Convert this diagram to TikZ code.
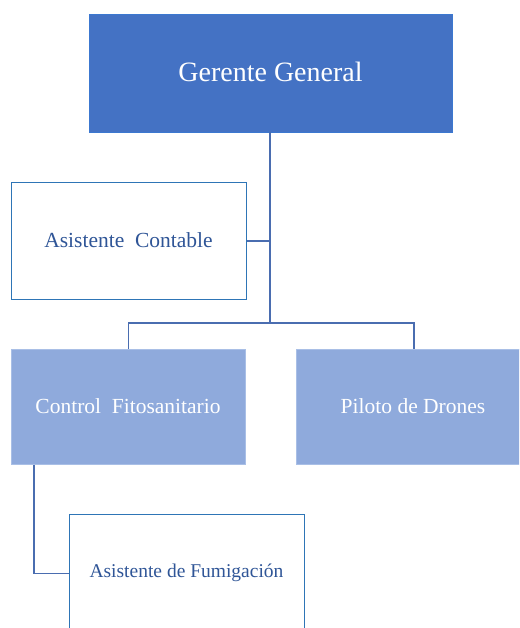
\documentclass[tikz,border=0pt]{standalone}
\usepackage{fontspec}
\setmainfont{Liberation Serif}
\newfontfamily\tnr{Liberation Serif}
\definecolor{darkbox}{HTML}{4472C4}
\definecolor{darkedge}{HTML}{3C78D0}
\definecolor{lightbox}{HTML}{8FAADC}
\definecolor{lightedge}{HTML}{A9BFE6}
\definecolor{whiteedge}{HTML}{2E75B6}
\definecolor{linec}{HTML}{4A6DB0}
\definecolor{textblue}{HTML}{2F5597}
\begin{document}
\begin{tikzpicture}[x=1pt,y=-1pt,
  box/.style={rectangle,inner sep=0pt,anchor=north west},
  topbox/.style={box,fill=darkbox,draw=darkedge,line width=1pt},
  midbox/.style={box,fill=lightbox,draw=lightedge,line width=0.8pt},
  wbox/.style={box,fill=white,draw=whiteedge,line width=1.1pt},
  bigtext/.style={text=white,font=\tnr\fontsize{28}{32}\selectfont},
  midtext/.style={text=white,font=\tnr\fontsize{21.5}{26}\selectfont},
  bluetext/.style={text=textblue,font=\tnr\fontsize{21.5}{26}\selectfont},
  smalltext/.style={text=textblue,font=\tnr\fontsize{19.5}{24}\selectfont},
  conn/.style={draw=linec,line width=1.3pt}]
\clip (0,0) rectangle (519,628);
\useasboundingbox (0,0) rectangle (519,628);
\node[topbox,minimum width=363pt,minimum height=118pt] (gg) at (89,14) {};
\node[bigtext] (ggt) at (270.5,72) {Gerente General};
\node[wbox,minimum width=235pt,minimum height=117pt] (ac) at (11,182) {};
\node[bluetext] (act) at (128.5,240) {Asistente\ \ Contable};
\node[midbox,minimum width=234pt,minimum height=115pt] (cf) at (11,349) {};
\node[midtext] (cft) at (128,406) {Control\ \ Fitosanitario};
\node[midbox,minimum width=235pt,minimum height=115pt] (pd) at (296,349) {};
\node[midtext] (pdt) at (413,406) {Piloto\ de\ Drones};
\node[wbox,minimum width=235pt,minimum height=118pt] (af) at (69,514) {};
\node[smalltext] (aft) at (186.5,573) {Asistente\ de\ Fumigación};
\coordinate (j1) at (270,323);
\coordinate (j0) at (270,132);
\path[conn] (j0) -- (j1);
\path[conn] (ac.east) -- (ac.east -| j1);
\path[conn] (j1) -| (cf.north);
\path[conn] (j1) -| (pd.north);
\path[conn] ([xshift=23pt]cf.south west) |- (af.west);
\end{tikzpicture}
\end{document}
